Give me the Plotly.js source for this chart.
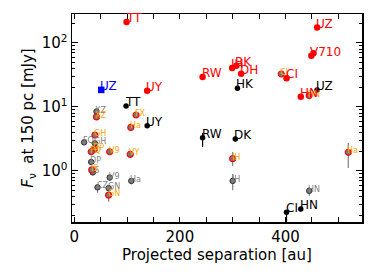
<!DOCTYPE html>
<html>
<head>
<meta charset="utf-8">
<script src="https://cdn.plot.ly/plotly-3.0.1.min.js"></script>
<style>html,body{margin:0;padding:0;background:#fff;}#chart{width:374px;height:280px;}</style>
</head>
<body>
<div id="chart"></div>
<script>
// Red: filled red circles, red labels
const redNames = ["TT","UY","RW","IH","BK","DH","CI","HN","UZ","V710","V710"];
const redSep   = [99, 138, 243, 299, 307, 316, 402, 429, 460, 449, 453];
const redFlux  = [213, 18, 29.4, 40.5, 44, 33, 28, 14.5, 174, 63, 69];

// Black: filled black circles, black labels
const blkNames = ["TT","UY","HK","UZ","RW","DK","CI","HN"];
const blkSep   = [98, 138, 309, 460, 243, 305, 402, 429];
const blkFlux  = [10.4, 5.1, 19.6, 18.4, 3.3, 3.16, 0.226, 0.255];
const blkErrUp = [0, 0, 0, 0, 0.63, 0.3, 0.02, 0.02];
const blkErrDn = [0, 0, 0, 0, 0.93, 0.25, 0.08, 0.02];

// Blue square
const bluNames = ["UZ"];
const bluSep   = [51];
const bluFlux  = [18.5];

// Gray: gray circles, gray labels
const gryNames = ["XZ","FQ","GH","DP","IS","V9","Ha","CZ","GN","IH","HN"];
const grySep   = [42, 18.5, 39, 32, 35, 67, 108, 44, 65, 300, 445];
const gryFlux  = [8.5, 2.8, 2.7, 1.38, 0.95, 0.79, 0.70, 0.556, 0.54, 0.70, 0.49];
const gryErrUp = [0.5, 0.2, 0.2, 0.1, 0.05, 0.06, 0.08, 0.03, 0.03, 0.2, 0.07];
const gryErrDn = [0.5, 0.2, 0.2, 0.1, 0.05, 0.08, 0.08, 0.10, 0.06, 0.2, 0.08];

// Orange-labelled: gray circles with red edge, orange labels
const orgNames = ["XZ","FX","Ha","GH","DP","FQ","V9","VY","IS","GN","IH","Ha","Cl","HN"];
const orgSep   = [42, 117, 107, 39, 38, 32, 67, 106, 33, 65, 300, 519, 392, 445];
const orgFlux  = [7.0, 7.5, 4.8, 3.65, 2.2, 2.0, 2.0, 1.82, 1.04, 0.42, 1.56, 1.96, 32.8, 15.1];
const orgErrUp = [0.3, 0.3, 0.3, 0.2, 0.1, 0.1, 0.1, 0.1, 0.05, 0.03, 0.42, 0.78, 1, 0.5];
const orgErrDn = [0.3, 0.3, 0.3, 0.2, 0.1, 0.1, 0.1, 0.1, 0.05, 0.09, 0.36, 0.85, 1, 0.5];

const traces = [
  {x: grySep, y: gryFlux, mode: "markers", type: "scatter", cliponaxis: false,
   marker: {color: "#7a7a7a", size: 5.5, line: {color: "#333333", width: 1}},
   error_y: {type: "data", symmetric: false, array: gryErrUp, arrayminus: gryErrDn, color: "#808080", thickness: 1.2, width: 0}},
  {x: orgSep, y: orgFlux, mode: "markers", type: "scatter", cliponaxis: false,
   marker: {color: "#7a7a7a", size: 6, line: {color: "#ff0000", width: 1.2}},
   error_y: {type: "data", symmetric: false, array: orgErrUp, arrayminus: orgErrDn, color: "#808080", thickness: 1.2, width: 0}},
  {x: blkSep, y: blkFlux, mode: "markers", type: "scatter", cliponaxis: false,
   marker: {color: "#000000", size: 5.5},
   error_y: {type: "data", symmetric: false, array: blkErrUp, arrayminus: blkErrDn, color: "#000000", thickness: 1.2, width: 0}},
  {x: redSep, y: redFlux, mode: "markers", type: "scatter", cliponaxis: false,
   marker: {color: "#ff0000", size: 6.5}},
  {x: bluSep, y: bluFlux, mode: "markers", type: "scatter", cliponaxis: false,
   marker: {color: "#0000ff", size: 6.5, symbol: "square"}}
];

function labels(names, xs, ys, size, color, skipDup) {
  const out = [];
  const seen = {};
  names.forEach((n, i) => {
    if (skipDup && seen[n]) return;
    seen[n] = true;
    out.push({x: xs[i], y: Math.log10(ys[i]), xref: "x", yref: "y", text: n, showarrow: false,
      xanchor: "left", yanchor: "bottom", xshift: -2, yshift: -4, borderpad: 0,
      font: {family: "DejaVu Sans", size: size, color: color}});
  });
  return out;
}

const annotations = [].concat(
  labels(gryNames, grySep, gryFlux, 8, "#808080", false),
  labels(orgNames, orgSep, orgFlux, 8, "#ffa500", false),
  labels(blkNames, blkSep, blkFlux, 12, "#000000", false),
  labels(redNames, redSep, redFlux, 12, "#ff0000", true),
  labels(bluNames, bluSep, bluFlux, 12, "#0000ff", false)
);

const layout = {
  width: 374, height: 280,
  margin: {l: 72, r: 12, t: 14, b: 58},
  paper_bgcolor: "#ffffff", plot_bgcolor: "#ffffff",
  showlegend: false,
  annotations: annotations,
  font: {family: "DejaVu Sans", color: "#000"},
  xaxis: {
    range: [-4.4, 545], showgrid: false, zeroline: false,
    showline: true, linecolor: "#000", linewidth: 1.5, mirror: "ticks",
    ticks: "inside", ticklen: 5, tickwidth: 1, tickcolor: "#000",
    tickvals: [0, 200, 400], ticktext: ["0", "200", "400"],
    tickfont: {family: "DejaVu Sans", size: 15, color: "#000"},
    minor: {dtick: 50, ticks: "inside", ticklen: 5, tickwidth: 1, tickcolor: "#000", showgrid: false},
    title: {text: "Projected separation [au]", font: {family: "DejaVu Sans", size: 15, color: "#000"}, standoff: 4}
  },
  yaxis: {
    type: "log", range: [-0.797, 2.453], showgrid: false, zeroline: false,
    showline: true, linecolor: "#000", linewidth: 1.5, mirror: "ticks",
    ticks: "inside", ticklen: 6, tickwidth: 1, tickcolor: "#000",
    tickvals: [1, 10, 100], ticktext: ["10<sup>0</sup>", "10<sup>1</sup>", "10<sup>2</sup>"],
    tickfont: {family: "DejaVu Sans", size: 15, color: "#000"},
    minor: {dtick: "D1", ticks: "inside", ticklen: 3, tickwidth: 1, tickcolor: "#000", showgrid: false},
    title: {text: "<i>F</i><sub>ν</sub>  at 150 pc [mJy]", font: {family: "DejaVu Sans", size: 15, color: "#000"}, standoff: 4}
  }
};

Plotly.newPlot("chart", traces, layout, {displayModeBar: false, staticPlot: true});
</script>
</body>
</html>
